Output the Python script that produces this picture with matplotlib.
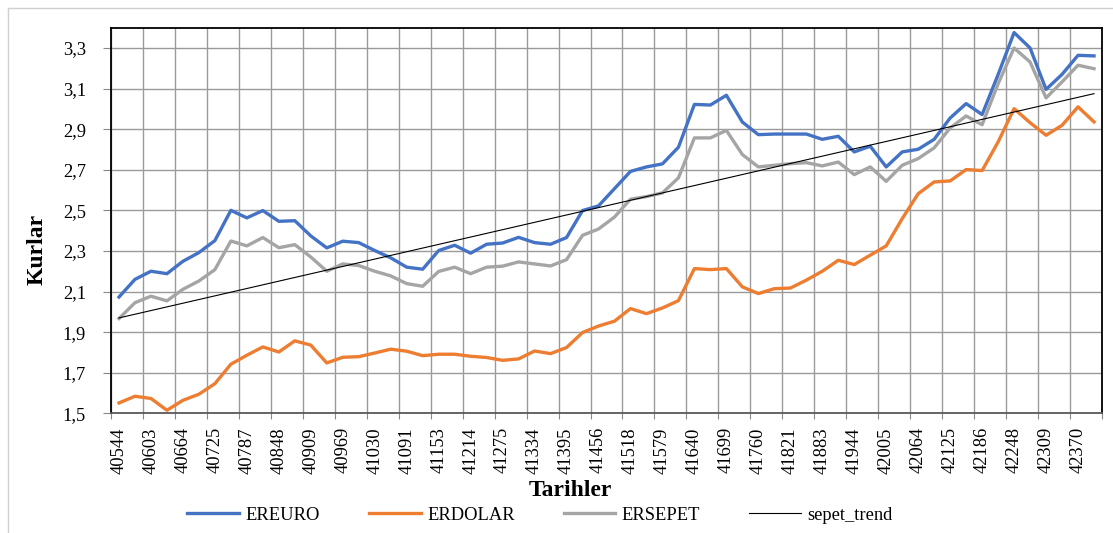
import numpy as np
import matplotlib
matplotlib.use("Agg")
import matplotlib.pyplot as plt
from matplotlib.lines import Line2D

plt.rcParams['font.family'] = ['Liberation Serif', 'DejaVu Serif']

# ---- data (monthly, Jan 2011 - Feb 2016) ----
tick_labels = ["40544", "40603", "40664", "40725", "40787", "40848", "40909", "40969",
               "41030", "41091", "41153", "41214", "41275", "41334", "41395", "41456",
               "41518", "41579", "41640", "41699", "41760", "41821", "41883", "41944",
               "42005", "42064", "42125", "42186", "42248", "42309", "42370"]

ereuro = [2.073, 2.160, 2.200, 2.188, 2.249, 2.292, 2.351, 2.500, 2.463, 2.499,
          2.446, 2.449, 2.374, 2.315, 2.348, 2.341, 2.302, 2.266, 2.220, 2.210,
          2.302, 2.328, 2.289, 2.333, 2.339, 2.367, 2.341, 2.333, 2.366, 2.499,
          2.522, 2.607, 2.692, 2.714, 2.729, 2.811, 3.022, 3.019, 3.067, 2.935,
          2.873, 2.876, 2.876, 2.876, 2.850, 2.865, 2.788, 2.816, 2.714, 2.788,
          2.801, 2.850, 2.955, 3.026, 2.972, 3.169, 3.376, 3.300, 3.096, 3.170,
          3.264, 3.261]

erdolar = [1.551, 1.584, 1.573, 1.515, 1.564, 1.594, 1.646, 1.742, 1.786, 1.827,
           1.802, 1.857, 1.836, 1.748, 1.776, 1.779, 1.797, 1.816, 1.806, 1.784,
           1.791, 1.791, 1.781, 1.775, 1.761, 1.768, 1.807, 1.794, 1.824, 1.898,
           1.930, 1.954, 2.016, 1.991, 2.019, 2.055, 2.213, 2.208, 2.213, 2.123,
           2.090, 2.114, 2.117, 2.156, 2.200, 2.254, 2.233, 2.279, 2.325, 2.459,
           2.582, 2.640, 2.645, 2.701, 2.696, 2.837, 3.001, 2.932, 2.870, 2.919,
           3.010, 2.936]

ersepet = [1.967, 2.045, 2.077, 2.054, 2.111, 2.152, 2.208, 2.349, 2.325, 2.366,
           2.316, 2.331, 2.270, 2.200, 2.236, 2.228, 2.200, 2.177, 2.139, 2.126,
           2.199, 2.220, 2.188, 2.220, 2.225, 2.246, 2.236, 2.226, 2.257, 2.377,
           2.408, 2.467, 2.555, 2.568, 2.586, 2.660, 2.857, 2.857, 2.894, 2.775,
           2.714, 2.722, 2.730, 2.735, 2.719, 2.738, 2.676, 2.714, 2.643, 2.722,
           2.755, 2.808, 2.906, 2.965, 2.922, 3.124, 3.300, 3.231, 3.054, 3.133,
           3.215, 3.198]

# sepet_trend: straight line, first and last month
trend_idx = [0, 61]
trend_val = [1.970, 3.075]

C_EUR, C_USD, C_SEP = "#4472C4", "#ED7D31", "#A5A5A5"

fig = plt.figure(figsize=(11.13, 5.33), dpi=100)
ax = fig.add_axes([111/1113, 1-413.3/533, 991/1113, (413.3-27.7)/533])

x = np.arange(len(ereuro))
ax.plot(x, ereuro, color=C_EUR, lw=2.4, label="EREURO", solid_joinstyle="round", zorder=3)
ax.plot(x, erdolar, color=C_USD, lw=2.4, label="ERDOLAR", solid_joinstyle="round", zorder=3)
ax.plot(x, ersepet, color=C_SEP, lw=2.4, label="ERSEPET", solid_joinstyle="round", zorder=3)
ax.plot(trend_idx, trend_val, color="black", lw=0.8, label="sepet_trend", zorder=4)

# axes: month boundaries as gridlines, labels every 2 months
ax.set_xlim(-0.5, len(x) - 0.5)
ax.set_ylim(1.5, 3.4)
ax.set_xticks(np.arange(-0.5, len(x), 2))
ax.set_xticklabels([])
ax.set_xticks(np.arange(0, len(x), 2), minor=True)
ax.set_xticklabels(tick_labels, minor=True, rotation=90, fontsize=13.3)
ax.tick_params(axis="x", which="major", length=4, color="#888888")
ax.tick_params(axis="x", which="minor", length=0, pad=10)

yt = np.arange(1.5, 3.31, 0.2)
ax.set_yticks(yt)
ax.set_yticklabels([f"{v:.1f}".replace(".", ",") for v in yt], fontsize=13.3)
ax.tick_params(axis="y", length=6, color="#888888", pad=12)

ax.grid(True, which="major", color="#9a9a9a", lw=1.0, zorder=0)
for s in ("left", "top", "right"):
    ax.spines[s].set_color("black")
    ax.spines[s].set_linewidth(1.3)
ax.spines["bottom"].set_color("#595959")
ax.spines["bottom"].set_linewidth(1.3)

fig.text(570/1113, 1-490/533, "Tarihler", ha="center", va="center",
         fontsize=17, fontweight="bold")
fig.text(37/1113, 1-249/533, "Kurlar", ha="center", va="center",
         fontsize=17, fontweight="bold", rotation=90)

fig.legend(loc="center", bbox_to_anchor=(540/1113, 1-515/533), ncol=4,
           frameon=False, fontsize=13.3, handlelength=2.8, handletextpad=0.35,
           columnspacing=2.65)

# outer chart frame (light grey)
fig.add_artist(Line2D([8/1113, 1], [1-8/533, 1-8/533], color="#d0d0d0", lw=1.0))
fig.add_artist(Line2D([8/1113, 8/1113], [0, 1-8/533], color="#d0d0d0", lw=1.0))

fig.savefig("out.png", dpi=100)
